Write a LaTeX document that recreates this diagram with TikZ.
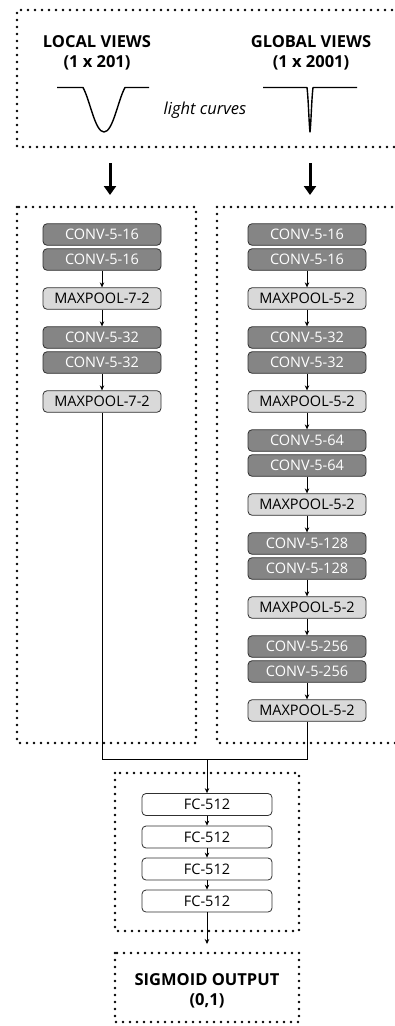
\documentclass[tikz,border=0pt]{standalone}
\usepackage{fontspec}
\setmainfont{Open Sans}
\usetikzlibrary{arrows.meta}
\definecolor{darkbox}{HTML}{858585}
\definecolor{lightbox}{HTML}{D9D9D9}
\definecolor{edge}{HTML}{303030}
\tikzset{
  x=1pt, y=-1pt,
  dotbox/.style={line width=2.6pt, line cap=round, dash pattern=on 0pt off 7pt, black},
  layer/.style={draw=edge, line width=0.8pt, rounded corners=4pt, minimum height=21.5pt, inner sep=0pt, font=\fontsize{14.5}{14.5}\selectfont},
  convbox/.style={layer, fill=darkbox, text=white, minimum width=118pt},
  poolbox/.style={layer, fill=lightbox, text=black, minimum width=118pt},
  fcbox/.style={layer, fill=white, text=black, minimum width=130pt, minimum height=22pt},
  conn/.style={line width=0.7pt, -{Stealth[length=5pt,width=4.5pt]}},
  plain/.style={line width=0.7pt},
  bigarrow/.style={line width=3pt, -{Triangle[length=9pt,width=12pt]}},
  title/.style={font=\fontsize{16.5}{20}\selectfont\bfseries, align=center},
}
\begin{document}
\begin{tikzpicture}
\useasboundingbox (0,0) rectangle (395,1026);
\clip (0,0) rectangle (395,1026);
% dotted frames
\draw[dotbox] (420,10) -- (17,10) -- (17,147) -- (420,147);
\draw[dotbox] (17,207) rectangle (196,743);
\draw[dotbox] (420,207) -- (217,207) -- (217,743) -- (420,743);
\draw[dotbox] (115,773) rectangle (299,931);
\draw[dotbox] (115,953) rectangle (299,1022);
% titles
\node[title] (lt) at (97,53) {LOCAL VIEWS\\(1 x 201)};
\node[title] (gt) at (311,53) {GLOBAL VIEWS\\(1 x 2001)};
\node[font=\fontsize{16.5}{16.5}\selectfont\itshape] (lc) at (205,110) {light curves};
% light curves
\draw[line width=1.4pt, line join=round] (57,87.5) -- (83,87.5)
  .. controls (90,100) and (95,132) .. (104,132)
  .. controls (113,132) and (118,100) .. (125,87.5) -- (149,87.5);
\draw[line width=1.4pt, line join=round] (263,87.5) -- (307,87.5)
  .. controls (308.5,100) and (309,125) .. (310,132)
  .. controls (311,125) and (311.5,100) .. (313,87.5) -- (357,87.5);
% big arrows
\coordinate (la0) at (110,163);
\coordinate (la1) at (110,195);
\coordinate (ga0) at (310,163);
\coordinate (ga1) at (310,195);
\draw[bigarrow] (la0) -- (la1);
\draw[bigarrow] (ga0) -- (ga1);
% local column
\node[convbox] (l1) at (102,234.5) {CONV-5-16};
\node[convbox] (l2) at (102,259.5) {CONV-5-16};
\node[poolbox] (l3) at (102,298.5) {MAXPOOL-7-2};
\node[convbox] (l4) at (102,337.5) {CONV-5-32};
\node[convbox] (l5) at (102,362.5) {CONV-5-32};
\node[poolbox] (l6) at (102,401.5) {MAXPOOL-7-2};
\draw[conn] (l2) -- (l3);
\draw[conn] (l3) -- (l4);
\draw[conn] (l5) -- (l6);
% global column
\foreach \i/\y/\t in {1/234.5/16, 2/337.5/32, 3/440.5/64, 4/543.5/128, 5/646.5/256}{
  \node[convbox] (ga\i) at (307,\y) {CONV-5-\t};
  \node[convbox] (gb\i) at (307,\y+25) {CONV-5-\t};
  \node[poolbox] (gp\i) at (307,\y+64) {MAXPOOL-5-2};
  \draw[conn] (gb\i) -- (gp\i);
}
\foreach \i/\j in {1/2,2/3,3/4,4/5}{
  \draw[conn] (gp\i) -- (ga\j);
}
% merge
\coordinate (j) at (207,759);
\draw[plain] (l6.south) |- (j);
\draw[plain] (gp5.south) |- (j);
% FC
\node[fcbox] (f1) at (207,804.5) {FC-512};
\node[fcbox] (f2) at (207,837) {FC-512};
\node[fcbox] (f3) at (207,869) {FC-512};
\node[fcbox] (f4) at (207,901) {FC-512};
\draw[conn] (j) -- (f1);
\draw[conn] (f1) -- (f2);
\draw[conn] (f2) -- (f3);
\draw[conn] (f3) -- (f4);
% output
\node[title] (out) at (207,991) {SIGMOID OUTPUT\\(0,1)};
\draw[conn] (f4.south) -- (out.north |- 0,944);
\end{tikzpicture}
\end{document}
